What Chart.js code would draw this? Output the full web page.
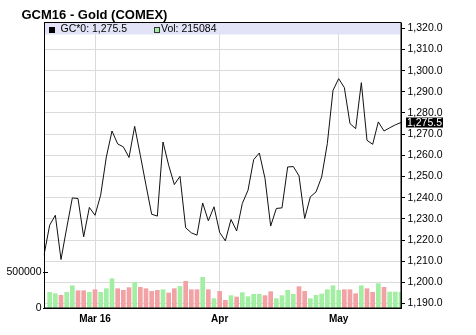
<!DOCTYPE html>
<html lang="en">
<head>
<meta charset="UTF-8">
<title>GCM16 - Gold (COMEX)</title>
<script src="https://cdn.jsdelivr.net/npm/chart.js"></script>
<style>
    body { margin: 0; background: #fff; }
    #wrap { width: 476px; height: 335px; }
</style>
</head>
<body>
<div id="wrap"><canvas id="chart" width="476" height="335"></canvas></div>
<script>
// --- DATA ---
const titleText = 'GCM16 - Gold (COMEX)';
const seriesName = 'GC*0';

const dates = [
    '2016-02-17','2016-02-18','2016-02-19','2016-02-22','2016-02-23','2016-02-24','2016-02-25','2016-02-26','2016-02-29',
    '2016-03-01','2016-03-02','2016-03-03','2016-03-04','2016-03-07','2016-03-08','2016-03-09','2016-03-10','2016-03-11',
    '2016-03-14','2016-03-15','2016-03-16','2016-03-17','2016-03-18','2016-03-21','2016-03-22','2016-03-23','2016-03-24',
    '2016-03-28','2016-03-29','2016-03-30','2016-03-31',
    '2016-04-01','2016-04-04','2016-04-05','2016-04-06','2016-04-07','2016-04-08','2016-04-11','2016-04-12','2016-04-13',
    '2016-04-14','2016-04-15','2016-04-18','2016-04-19','2016-04-20','2016-04-21','2016-04-22','2016-04-25','2016-04-26',
    '2016-04-27','2016-04-28','2016-04-29',
    '2016-05-02','2016-05-03','2016-05-04','2016-05-05','2016-05-06','2016-05-09','2016-05-10','2016-05-11','2016-05-12',
    '2016-05-13','2016-05-16','2016-05-17'
];

const closes = [
    1212.9, 1227.0, 1231.7, 1210.8, 1225.6, 1239.9, 1239.6, 1221.5, 1235.4,
    1231.7, 1241.2, 1259.2, 1271.5, 1265.4, 1264.0, 1259.0, 1273.7, 1260.0,
    1245.9, 1232.2, 1231.3, 1266.3, 1255.3, 1246.2, 1250.1, 1225.8, 1223.4,
    1222.3, 1237.5, 1229.1, 1235.7,
    1223.6, 1219.6, 1229.7, 1224.3, 1237.3, 1243.5, 1258.0, 1261.1, 1249.1,
    1226.6, 1234.9, 1235.2, 1254.5, 1254.7, 1250.3, 1230.2, 1240.4, 1242.7,
    1249.8, 1265.6, 1290.7,
    1296.2, 1292.0, 1275.0, 1272.6, 1294.3, 1267.1, 1265.2, 1275.8, 1271.5,
    1273.0, 1274.4, 1275.5
];

const volumes = [
    null, 216000, 197000, 175000, 216000, 307000, 238000, 238000, 216000,
    252000, 216000, 266000, 404000, 266000, 243000, 280000, 354000, 285000,
    266000, 229000, 243000, 252000, 207000, 266000, 298000, 367000, 252000,
    252000, 422000, 252000, 129000,
    229000, 106000, 170000, 152000, 211000, 156000, 189000, 189000, 170000,
    225000, 129000, 170000, 243000, 189000, 294000, 229000, 129000, 175000,
    193000, 252000, 307000,
    243000, 252000, 252000, 197000, 307000, 266000, 216000, 335000, 285000,
    220000, 220000, 215084
];

const monthTickDates = ['2016-03-01', '2016-04-01', '2016-05-02'];
const monthTickLabels = ['Mar 16', 'Apr', 'May'];
const priceTicks = [1190, 1200, 1210, 1220, 1230, 1240, 1250, 1260, 1270, 1280, 1290, 1300, 1310, 1320];
const volumeTicks = [0, 500000];

// --- STYLE ---
const FONT = "'Liberation Sans', Arial, sans-serif";
const UP = '#a2eea2';
const DOWN = '#f2a2a4';
const GRID = '#dadada';

const fmtPrice = v => v.toLocaleString('en-US', { minimumFractionDigits: 1, maximumFractionDigits: 1 });
const lastClose = closes[closes.length - 1];
const lastVol = volumes[volumes.length - 1];

// title, legend band, price flag and frame
const decor = {
    id: 'decor',
    beforeDatasetsDraw(chart) {
        const { ctx, chartArea: a } = chart;
        ctx.save();
        ctx.fillStyle = '#e3e3f7';
        ctx.fillRect(a.left + 1, a.top, a.right - a.left - 2, 11.5);

        ctx.font = '10.5px ' + FONT;
        ctx.textBaseline = 'middle';
        ctx.fillStyle = '#000';
        ctx.fillRect(a.left + 5, a.top + 4, 6, 6);
        ctx.fillText(seriesName + ': ' + fmtPrice(lastClose), a.left + 16.5, a.top + 6.5);

        ctx.fillStyle = UP;
        ctx.fillRect(a.left + 110, a.top + 4, 6, 6);
        ctx.strokeStyle = '#333';
        ctx.lineWidth = 1;
        ctx.strokeRect(a.left + 110.5, a.top + 4.5, 5, 5);
        ctx.fillStyle = '#000';
        ctx.fillText('Vol: ' + lastVol, a.left + 117, a.top + 6.5);

        // small inner ticks on the volume axis
        const vs = chart.scales.yVol;
        ctx.strokeStyle = '#000';
        volumeTicks.forEach(v => {
            const y = Math.round(vs.getPixelForValue(v)) + 0.5;
            ctx.beginPath();
            ctx.moveTo(a.left - 1, y);
            ctx.lineTo(a.left + 4, y);
            ctx.stroke();
        });
        ctx.restore();
    },
    afterDraw(chart) {
        const { ctx, chartArea: a } = chart;
        ctx.save();
        ctx.fillStyle = '#000';
        ctx.font = 'bold 13px ' + FONT;
        ctx.textBaseline = 'alphabetic';
        ctx.fillText(titleText, 21.5, 19);

        ctx.strokeStyle = '#000';
        ctx.lineWidth = 1;
        ctx.strokeRect(a.left + 0.5, a.top - 0.5, a.right - a.left - 0.5, a.bottom - a.top + 0.5);

        const y = chart.scales.yPrice.getPixelForValue(lastClose);
        ctx.fillStyle = '#000';
        ctx.fillRect(a.right + 5, y - 5, 37, 10);
        ctx.fillStyle = '#fff';
        ctx.font = '10.5px ' + FONT;
        ctx.textBaseline = 'middle';
        ctx.fillText(fmtPrice(lastClose), a.right + 6, y + 0.5);
        ctx.restore();
    }
};

new Chart(document.getElementById('chart'), {
    data: {
        labels: dates,
        datasets: [{
            type: 'line',
            label: seriesName,
            data: closes,
            yAxisID: 'yPrice',
            borderColor: '#111',
            borderWidth: 1,
            pointRadius: 0,
            tension: 0,
            order: 1
        }, {
            type: 'bar',
            label: 'Vol',
            data: volumes,
            yAxisID: 'yVol',
            backgroundColor: c => (c.dataIndex > 0 && closes[c.dataIndex] < closes[c.dataIndex - 1]) ? DOWN : UP,
            barThickness: 4,
            order: 2
        }]
    },
    options: {
        responsive: false,
        animation: false,
        devicePixelRatio: 1,
        layout: { padding: { top: 23, left: 0, right: 0, bottom: 0 } },
        plugins: { legend: { display: false }, tooltip: { enabled: false } },
        scales: {
            x: {
                type: 'category',
                offset: false,
                grid: { color: GRID, drawTicks: false, offset: false },
                border: { color: '#000' },
                ticks: {
                    autoSkip: false, maxRotation: 0, padding: 5,
                    color: '#000', font: { family: FONT, size: 10, weight: 'bold' },
                    callback: (v, i) => {
                        const k = monthTickDates.indexOf(dates[i]);
                        return k >= 0 ? monthTickLabels[k] : null;
                    }
                },
                afterFit: s => { s.height = 27; }
            },
            yPrice: {
                position: 'right',
                min: 1187.9,
                max: 1322.5,
                grid: { color: GRID, tickColor: '#000', tickLength: 4 },
                border: { color: '#000' },
                ticks: {
                    padding: 2.5, color: '#000', font: { family: FONT, size: 10.5 },
                    callback: v => fmtPrice(v)
                },
                afterBuildTicks: s => { s.ticks = priceTicks.map(v => ({ value: v })); },
                afterFit: s => { s.width = 75; }
            },
            yVol: {
                position: 'left',
                min: 0,
                max: 3925000,
                grid: { drawOnChartArea: false, drawTicks: false },
                border: { color: '#000' },
                ticks: {
                    padding: 2.5, color: '#000', font: { family: FONT, size: 10.5 },
                    callback: v => String(v)
                },
                afterBuildTicks: s => { s.ticks = volumeTicks.map(v => ({ value: v })); },
                afterFit: s => { s.width = 44; }
            }
        }
    },
    plugins: [decor]
});
</script>
</body>
</html>
